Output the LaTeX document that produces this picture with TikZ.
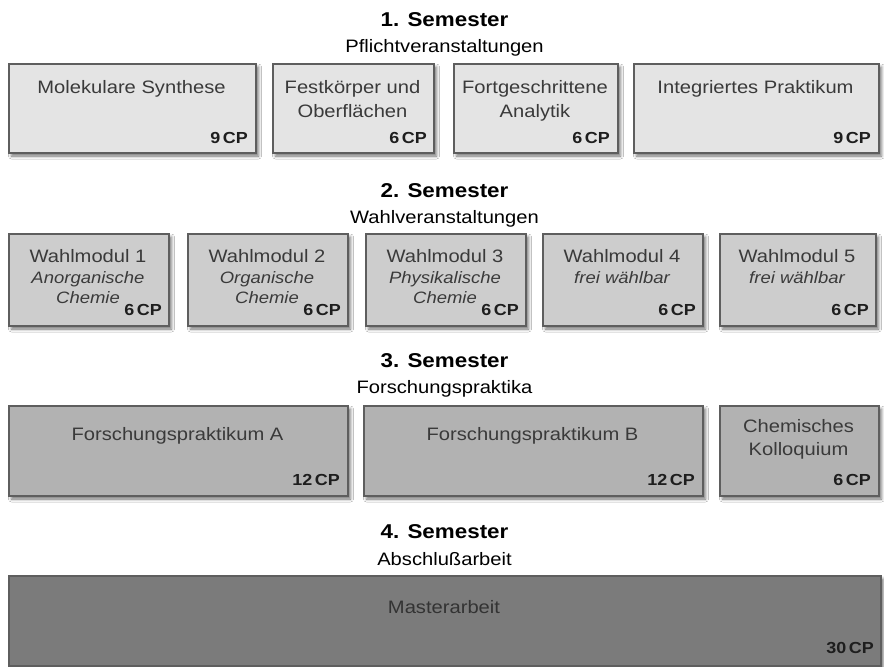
\documentclass[tikz,border=0pt]{standalone}
\usepackage{fontspec}
\setmainfont{Liberation Sans}[FakeStretch=1.12]
\usetikzlibrary{shadows.blur}
\definecolor{fillA}{HTML}{E4E4E4}
\definecolor{fillB}{HTML}{CDCDCD}
\definecolor{fillC}{HTML}{B2B2B2}
\definecolor{fillD}{HTML}{7B7B7B}
\definecolor{boxline}{HTML}{5E5E5E}
\definecolor{maintext}{HTML}{3A3A3A}
\definecolor{cptext}{HTML}{1E1E1E}
\tikzset{
  box/.style={draw=boxline, line width=2pt, rectangle, anchor=north west, inner sep=0pt,
    blur shadow={shadow xshift=2.5pt, shadow yshift=-3pt, shadow blur radius=3pt, shadow opacity=55}},
  rowA/.style={box, fill=fillA, minimum height=89pt},
  rowB/.style={box, fill=fillB, minimum height=92pt},
  rowC/.style={box, fill=fillC, minimum height=90pt},
  rowD/.style={box, fill=fillD, minimum height=90pt},
  title/.style={anchor=base, inner sep=0pt, font=\fontsize{20}{24}\bfseries\selectfont, text=black},
  subtitle/.style={anchor=base, inner sep=0pt, font=\fontsize{18}{22}\selectfont, text=black},
  main/.style={anchor=base, inner sep=0pt, align=center, font=\fontsize{18}{24}\selectfont, text=maintext},
  sub/.style={anchor=base, inner sep=0pt, align=center, font=\fontsize{16.5}{20}\itshape\selectfont, text=maintext},
  cp/.style={anchor=base east, inner sep=0pt, font=\fontsize{16}{20}\bfseries\selectfont, text=cptext},
}
\begin{document}
\begin{tikzpicture}[x=1pt, y=-1pt]
\useasboundingbox (0,0) rectangle (884,667);
\fill[white] (0,0) rectangle (884,667);

% Semester 1
\node[title] (t1) at (444.5,26) {1. Semester};
\node[subtitle] (s1) at (444.5,52) {Pflichtveranstaltungen};
\node[rowA, minimum width=247pt] (m1) at (8,63) {};
\node[rowA, minimum width=161pt] (m2) at (272,63) {};
\node[rowA, minimum width=164pt] (m3) at (453,63) {};
\node[rowA, minimum width=245pt] (m4) at (633,63) {};
\node[main] (m1t) at (131.5,93) {Molekulare Synthese};
\node[main] (m2t) at (352.5,93) {Festkörper und};
\node[main] (m2u) at (352.5,117) {Oberflächen};
\node[main] (m3t) at (535,93) {Fortgeschrittene};
\node[main] (m3u) at (535,117) {Analytik};
\node[main] (m4t) at (755.5,93) {Integriertes Praktikum};
\node[cp] (m1c) at (248,143) {9\,CP};
\node[cp] (m2c) at (427,143) {6\,CP};
\node[cp] (m3c) at (610,143) {6\,CP};
\node[cp] (m4c) at (871,143) {9\,CP};

% Semester 2
\node[title] (t2) at (444.5,197) {2. Semester};
\node[subtitle] (s2) at (444.5,223) {Wahlveranstaltungen};
\node[rowB, minimum width=160pt] (w1) at (8,233) {};
\node[rowB, minimum width=160pt] (w2) at (187,233) {};
\node[rowB, minimum width=160pt] (w3) at (365,233) {};
\node[rowB, minimum width=160pt] (w4) at (542,233) {};
\node[rowB, minimum width=156pt] (w5) at (719,233) {};
\node[main] (w1t) at (88,262) {Wahlmodul 1};
\node[main] (w2t) at (267,262) {Wahlmodul 2};
\node[main] (w3t) at (445,262) {Wahlmodul 3};
\node[main] (w4t) at (622,262) {Wahlmodul 4};
\node[main] (w5t) at (797,262) {Wahlmodul 5};
\node[sub] (w1s) at (88,283) {Anorganische};
\node[sub] (w1u) at (88,303) {Chemie};
\node[sub] (w2s) at (267,283) {Organische};
\node[sub] (w2u) at (267,303) {Chemie};
\node[sub] (w3s) at (445,283) {Physikalische};
\node[sub] (w3u) at (445,303) {Chemie};
\node[sub] (w4s) at (622,283) {frei wählbar};
\node[sub] (w5s) at (797,283) {frei wählbar};
\node[cp] (w1c) at (162,315) {6\,CP};
\node[cp] (w2c) at (341,315) {6\,CP};
\node[cp] (w3c) at (519,315) {6\,CP};
\node[cp] (w4c) at (696,315) {6\,CP};
\node[cp] (w5c) at (869,315) {6\,CP};

% Semester 3
\node[title] (t3) at (444.5,367) {3. Semester};
\node[subtitle] (s3) at (444.5,393) {Forschungspraktika};
\node[rowC, minimum width=339pt] (f1) at (8,405) {};
\node[rowC, minimum width=339pt] (f2) at (363,405) {};
\node[rowC, minimum width=159pt] (f3) at (719,405) {};
\node[main] (f1t) at (177.5,440) {Forschungspraktikum A};
\node[main] (f2t) at (532.5,440) {Forschungspraktikum B};
\node[main] (f3t) at (798.5,432) {Chemisches};
\node[main] (f3u) at (798.5,455) {Kolloquium};
\node[cp] (f1c) at (340,485) {12\,CP};
\node[cp] (f2c) at (695,485) {12\,CP};
\node[cp] (f3c) at (871,485) {6\,CP};

% Semester 4
\node[title] (t4) at (444.5,538) {4. Semester};
\node[subtitle] (s4) at (444.5,565) {Abschlußarbeit};
\node[rowD, minimum width=872pt] (ma) at (8,575) {};
\node[main, text=black!80] (mat) at (444,613) {Masterarbeit};
\node[cp] (mac) at (874,653) {30\,CP};
\end{tikzpicture}
\end{document}
